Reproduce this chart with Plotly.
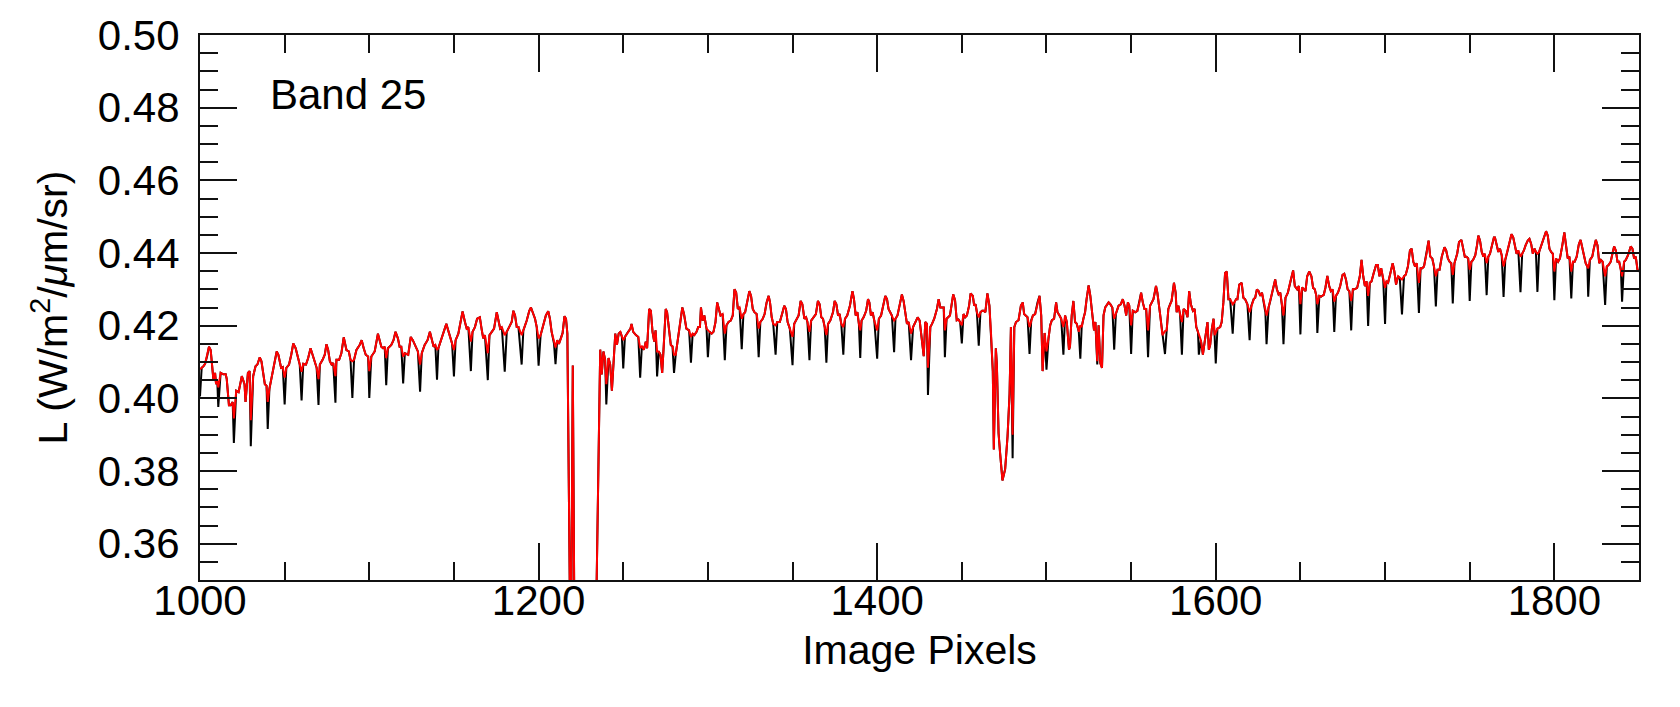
import plotly.graph_objects as go

# ---- data (x = image pixel, y = radiance) ----
red_x = [
    1000, 1001, 1002, 1003, 1004.3, 1005.3, 1006.3, 1007.9, 1008.9, 1009.5, 1010.2, 1010.8, 1012.2, 1013.8, 1015.2, 1015.8, 1017.1, 1018.1, 1019.3,
    1020, 1021.4, 1022.8, 1024.7, 1026.3, 1026.9, 1028.3, 1029.3,
    1030, 1031.4, 1032.8, 1033.9, 1035.3, 1036.3, 1038.3, 1039.3,
    1040, 1041, 1042.6, 1043.9, 1045.3, 1046.3, 1047.9, 1048.9,
    1050, 1051, 1052.6, 1053.9, 1055.1, 1056.5, 1057.9, 1058.9,
    1060, 1061, 1062.6, 1063.9, 1065.3, 1066.5, 1067.7, 1068.9,
    1070, 1070.8, 1072.4, 1073.7, 1074.7, 1075.7, 1076.7, 1077.7, 1078.7,
    1080, 1080.6, 1082.2, 1083.5, 1084.9, 1086.5, 1087.9, 1088.9,
    1090, 1091, 1092.4, 1094.3, 1095.5, 1096.7, 1097.9, 1099.3,
    1100, 1101.2, 1103.2, 1105.1, 1106.1, 1107.1, 1108.1, 1109.1,
    1110, 1111, 1113, 1114.3, 1115.5, 1116.9, 1117.9, 1118.9,
    1120, 1121, 1123, 1124.5, 1125.7, 1127.3, 1128.7,
    1130, 1131, 1132.7, 1134.4, 1135.8, 1136.9, 1138, 1139,
    1140, 1140.8, 1142.6, 1144.3, 1145.5, 1146.6, 1147.9, 1148.9,
    1150, 1151, 1152.6, 1153.9, 1155.1, 1156.5, 1157.5, 1158.5,
    1160, 1161, 1162.4, 1163.7, 1165.3, 1166.3, 1167.3, 1168.3,
    1170, 1171, 1172.4, 1173.7, 1175.3, 1176.3, 1177.3, 1178.3,
    1180, 1181.2, 1182.8, 1184.1, 1185.1, 1186.1, 1187.1, 1188.1,
    1190, 1191, 1193, 1194.5, 1195.5, 1196.5, 1197.9, 1198.9,
    1200, 1201.2, 1202.8, 1204.3, 1205.7, 1206.7, 1207.7, 1209.1,
    1210, 1211, 1212, 1213.2, 1214.2, 1215.3, 1216.2, 1217, 1219, 1220.2, 1221.4,
    1233, 1236.4, 1237.3, 1238.3, 1239.3,
    1240, 1241.3, 1242.3, 1243.3, 1244.3, 1245.3, 1246.3, 1247.3, 1248.3, 1249.2,
    1250, 1251, 1252.9, 1254.3, 1254.9, 1255.9, 1257.5, 1258.9,
    1260, 1261, 1262.2, 1263.3, 1264.1, 1265.3, 1266.3, 1267.3, 1268.3, 1269.1,
    1270, 1271, 1272, 1273, 1273.9, 1275.1, 1275.9, 1276.9, 1278.1, 1279.1,
    1280, 1281, 1282.4, 1283.7, 1284.9, 1285.9, 1287.3, 1288.9,
    1290, 1291, 1292, 1293.3, 1294.3, 1295.3, 1295.9, 1296.9, 1297.9, 1299.2,
    1300, 1301, 1302.2, 1303.3, 1304.5, 1305.5, 1306.5, 1307.5, 1308.7,
    1310, 1311, 1312.2, 1313.5, 1314.7, 1315.7, 1316.7, 1317.7, 1318.7,
    1320, 1321, 1322, 1323.3, 1324.5, 1325.5, 1326.5, 1327.5, 1328.8,
    1330, 1331, 1332.4, 1333.5, 1334.7, 1335.9, 1336.7, 1337.7, 1338.6,
    1340, 1341, 1342.5, 1344.1, 1345.1, 1346.1, 1347.1, 1348.4,
    1350, 1351, 1352.4, 1353.6, 1354.8, 1355.8, 1357, 1358, 1358.8,
    1360, 1361, 1362.4, 1363.8, 1365, 1366, 1367, 1368, 1369,
    1370, 1371, 1372.3, 1373.9, 1374.9, 1375.9, 1376.9, 1377.8, 1378.8,
    1380, 1381, 1382.3, 1383.9, 1385.4, 1386.3, 1387.3, 1388.3, 1389.2,
    1390, 1390.8, 1392, 1393.5, 1394.6, 1395.4, 1396.3, 1397.3, 1398.3,
    1400, 1401, 1402.3, 1403.5, 1404.8, 1405.8, 1406.7, 1407.7, 1408.7,
    1410, 1410.8, 1412, 1413.6, 1414.6, 1415.6, 1416.6, 1417.6, 1418.6,
    1420, 1421.2, 1422.6, 1423.9, 1425.1, 1426.5, 1427.5, 1428.4, 1429.4,
    1430, 1431.4, 1432.4, 1433.7, 1435.3, 1436.3, 1437.3, 1438.3, 1439.3,
    1440, 1441, 1443, 1444.9, 1446, 1447, 1448, 1449,
    1450, 1451, 1452, 1453, 1454.3, 1455.2, 1456.5, 1457.3, 1458.1, 1458.9,
    1460, 1461, 1462, 1463, 1463.9, 1465.1, 1466.3, 1467.3, 1468.3, 1468.9, 1470.1, 1470.7, 1471.7, 1472.6, 1474, 1475.6, 1477, 1478.2, 1479,
    1480, 1481, 1482, 1483.5, 1484.9, 1486, 1486.8, 1487.6, 1488.8,
    1490, 1491, 1492, 1493.3, 1494.7, 1495.9, 1496.9, 1497.7, 1498.9,
    1500, 1501.2, 1502.2, 1503.2, 1504.5, 1505.7, 1506.5, 1507.7, 1508.7,
    1510, 1511, 1512, 1513.3, 1513.9, 1514.9, 1515.9, 1516.9, 1517.9, 1519.1,
    1520, 1520.8, 1521.8, 1522.8, 1523.7, 1524.9, 1525.9, 1527.1, 1528.1, 1528.9,
    1530, 1530.8, 1531.8, 1532.8, 1533.7, 1534.7, 1535.7, 1536.7, 1537.7, 1538.9,
    1540, 1541, 1542.6, 1543.9, 1545.1, 1546.1, 1547.1, 1548.1, 1548.9,
    1550, 1551, 1552.4, 1553.7, 1554.9, 1555.9, 1556.9, 1557.9, 1558.9,
    1560, 1561.2, 1563.2, 1564.7, 1565.5, 1567.1, 1568.5,
    1570, 1571, 1572, 1573, 1573.9, 1575.3, 1576.3, 1576.9, 1577.9, 1578.9,
    1580, 1581, 1582.2, 1583.3, 1584.3, 1585.3, 1586.5, 1587.5, 1588.5, 1589.5,
    1590, 1591.2, 1592.4, 1593.2, 1594.1, 1595.1, 1595.9, 1596.7, 1597.7, 1598.7, 1599.3,
    1600, 1601, 1602.6, 1603.5, 1604.5, 1605.5, 1606.5, 1607.5, 1608.5,
    1610, 1611, 1612, 1612.8, 1613.9, 1615.3, 1616.3, 1617.3, 1618.7,
    1620, 1621, 1622.4, 1623.3, 1624.3, 1625.3, 1626.3, 1627.3, 1628.3, 1629.3,
    1630, 1631.2, 1632.2, 1633.7, 1635.1, 1636.1, 1637.1, 1638.1, 1639.1,
    1640, 1641.2, 1642.6, 1644.1, 1645.7, 1646.7, 1648.1, 1649.1,
    1650, 1651, 1652, 1653, 1654, 1655.2, 1656.5, 1657.5, 1658.5, 1659.4,
    1660, 1661.2, 1662.2, 1663.8, 1664.8, 1665.9, 1667, 1668, 1669,
    1670, 1671, 1672.2, 1673.5, 1674.9, 1675.9, 1676.9, 1677.9, 1678.9,
    1680, 1681, 1682, 1683.5, 1685.1, 1686.1, 1687.1, 1688.1, 1689.1,
    1690, 1691, 1692, 1693.3, 1694.7, 1695.7, 1696.7, 1697.7, 1698.9,
    1700, 1700.8, 1701.8, 1703.2, 1704.5, 1705.5, 1706.5, 1707.7, 1708.7,
    1710, 1711.2, 1712.2, 1713.5, 1714.7, 1715.7, 1716.7, 1717.7, 1718.7,
    1720, 1721, 1722, 1723, 1724.5, 1725.7, 1726.7, 1727.9, 1728.9,
    1730, 1731, 1732.2, 1733.5, 1735.1, 1736.1, 1737.1, 1738.1, 1739.1,
    1740, 1741, 1742.6, 1743.7, 1745.1, 1746.1, 1747.1, 1748.1, 1749.1,
    1750, 1751, 1752, 1753.3, 1754.3, 1755.1, 1756.1, 1757.1, 1758.1, 1758.9,
    1760, 1761, 1762, 1763.3, 1764.3, 1764.9, 1765.9, 1766.9, 1767.9, 1768.9,
    1770, 1771, 1772.2, 1773.5, 1774.7, 1775.7, 1776.7, 1777.7, 1778.7,
    1780, 1781, 1782, 1783, 1784.3, 1785.3, 1786.3, 1787.3, 1788.3, 1789.1,
    1790, 1791, 1792.2, 1793.7, 1795.1, 1796.1, 1797.1, 1798.1, 1799.1,
    1800, 1801, 1802.2, 1803.3, 1804.7, 1805.9, 1806.9, 1807.9, 1808.9,
    1810, 1811, 1812, 1813.2, 1814.5, 1815.5, 1816.5, 1817.5, 1818.5, 1819.5,
    1820, 1821, 1822.4, 1823.3, 1824.5, 1825.5, 1826.5, 1827.5, 1828.5,
    1830, 1831, 1832, 1833.3, 1834.3, 1835.3, 1836.3, 1837.3, 1838.3, 1839.3,
    1840, 1841.2, 1842.2, 1843.5, 1845.1, 1846.1, 1847.1, 1848.1, 1849.1, 1850,
]

red_y = [
    0.4080, 0.4084, 0.4088, 0.4095, 0.4118, 0.4142, 0.4133, 0.4053, 0.4070, 0.4039, 0.4048, 0.4030, 0.4070, 0.4066, 0.4066, 0.4053, 0.3981, 0.3981, 0.3990,
    0.3945, 0.4021, 0.4017, 0.4061, 0.4039, 0.3990, 0.4070, 0.4075,
    0.3940, 0.4061, 0.4088, 0.4093, 0.4113, 0.4102, 0.4039, 0.4035,
    0.3990, 0.4026, 0.4061, 0.4097, 0.4129, 0.4120, 0.4084, 0.4086,
    0.4057, 0.4084, 0.4093, 0.4120, 0.4151, 0.4138, 0.4111, 0.4093,
    0.4073, 0.4095, 0.4093, 0.4111, 0.4138, 0.4120, 0.4100, 0.4084,
    0.4053, 0.4093, 0.4106, 0.4120, 0.4149, 0.4133, 0.4102, 0.4093, 0.4097,
    0.4061, 0.4106, 0.4106, 0.4124, 0.4168, 0.4133, 0.4129, 0.4106,
    0.4102, 0.4106, 0.4133, 0.4147, 0.4160, 0.4138, 0.4120, 0.4115,
    0.4075, 0.4115, 0.4129, 0.4178, 0.4160, 0.4142, 0.4138, 0.4142,
    0.4111, 0.4138, 0.4147, 0.4160, 0.4183, 0.4165, 0.4142, 0.4142,
    0.4115, 0.4124, 0.4120, 0.4169, 0.4160, 0.4142, 0.4129,
    0.4093, 0.4124, 0.4147, 0.4160, 0.4183, 0.4165, 0.4142, 0.4147,
    0.4133, 0.4138, 0.4165, 0.4192, 0.4205, 0.4187, 0.4165, 0.4151,
    0.4133, 0.4160, 0.4178, 0.4210, 0.4239, 0.4210, 0.4192, 0.4196,
    0.4156, 0.4183, 0.4196, 0.4219, 0.4223, 0.4192, 0.4165, 0.4174,
    0.4124, 0.4174, 0.4183, 0.4192, 0.4237, 0.4210, 0.4192, 0.4196,
    0.4174, 0.4183, 0.4196, 0.4210, 0.4241, 0.4228, 0.4196, 0.4196,
    0.4174, 0.4187, 0.4214, 0.4241, 0.4250, 0.4237, 0.4219, 0.4196,
    0.4165, 0.4174, 0.4201, 0.4228, 0.4240, 0.4219, 0.4183, 0.4151,
    0.4140, 0.4160, 0.4150, 0.4165, 0.4180, 0.4226, 0.4219, 0.4178, 0.3200, 0.4090, 0.3200,
    0.3100, 0.4134, 0.4066, 0.4129, 0.4106,
    0.4039, 0.4111, 0.4093, 0.4021, 0.4120, 0.4178, 0.4147, 0.4178, 0.4183, 0.4169,
    0.4160, 0.4169, 0.4183, 0.4192, 0.4205, 0.4183, 0.4174, 0.4169,
    0.4138, 0.4143, 0.4134, 0.4156, 0.4138, 0.4246, 0.4241, 0.4183, 0.4156, 0.4187,
    0.4129, 0.4129, 0.4120, 0.4070, 0.4143, 0.4246, 0.4237, 0.4192, 0.4147, 0.4143,
    0.4120, 0.4120, 0.4165, 0.4219, 0.4250, 0.4232, 0.4192, 0.4187,
    0.4169, 0.4178, 0.4174, 0.4183, 0.4196, 0.4196, 0.4250, 0.4214, 0.4228, 0.4192,
    0.4187, 0.4183, 0.4178, 0.4183, 0.4210, 0.4264, 0.4246, 0.4228, 0.4232,
    0.4178, 0.4201, 0.4210, 0.4214, 0.4228, 0.4300, 0.4291, 0.4246, 0.4250,
    0.4219, 0.4232, 0.4237, 0.4264, 0.4295, 0.4282, 0.4246, 0.4237, 0.4232,
    0.4192, 0.4210, 0.4219, 0.4232, 0.4264, 0.4282, 0.4264, 0.4223, 0.4205,
    0.4201, 0.4210, 0.4210, 0.4237, 0.4255, 0.4246, 0.4210, 0.4192,
    0.4169, 0.4205, 0.4219, 0.4228, 0.4268, 0.4259, 0.4219, 0.4223, 0.4210,
    0.4183, 0.4214, 0.4223, 0.4232, 0.4268, 0.4259, 0.4223, 0.4219, 0.4196,
    0.4174, 0.4205, 0.4214, 0.4237, 0.4268, 0.4259, 0.4228, 0.4232, 0.4205,
    0.4196, 0.4219, 0.4228, 0.4255, 0.4295, 0.4273, 0.4228, 0.4237, 0.4205,
    0.4187, 0.4214, 0.4223, 0.4241, 0.4273, 0.4264, 0.4228, 0.4237, 0.4214,
    0.4187, 0.4219, 0.4228, 0.4250, 0.4282, 0.4273, 0.4246, 0.4237, 0.4228,
    0.4214, 0.4219, 0.4228, 0.4264, 0.4286, 0.4268, 0.4228, 0.4205, 0.4210,
    0.4178, 0.4196, 0.4210, 0.4223, 0.4214, 0.4156, 0.4116, 0.4210, 0.4205,
    0.4084, 0.4196, 0.4205, 0.4219, 0.4246, 0.4273, 0.4250, 0.4250, 0.4250,
    0.4187, 0.4219, 0.4228, 0.4286, 0.4270, 0.4215, 0.4217, 0.4210,
    0.4201, 0.4232, 0.4223, 0.4228, 0.4255, 0.4289, 0.4282, 0.4255, 0.4259, 0.4237,
    0.4223, 0.4237, 0.4241, 0.4241, 0.4237, 0.4289, 0.4255, 0.4174, 0.4075, 0.3859, 0.4138, 0.4093, 0.3904, 0.3850, 0.3774, 0.3805, 0.3895, 0.4012, 0.4196,
    0.3900, 0.4196, 0.4210, 0.4215, 0.4255, 0.4264, 0.4232, 0.4228, 0.4223,
    0.4196, 0.4215, 0.4228, 0.4232, 0.4264, 0.4282, 0.4228, 0.4075, 0.4180,
    0.4129, 0.4165, 0.4201, 0.4215, 0.4219, 0.4264, 0.4237, 0.4228, 0.4219,
    0.4196, 0.4228, 0.4210, 0.4134, 0.4143, 0.4228, 0.4268, 0.4210, 0.4205, 0.4183,
    0.4201, 0.4196, 0.4219, 0.4237, 0.4273, 0.4311, 0.4282, 0.4223, 0.4187, 0.4210,
    0.4102, 0.4201, 0.4097, 0.4084, 0.4228, 0.4250, 0.4259, 0.4264, 0.4259, 0.4250,
    0.4219, 0.4232, 0.4255, 0.4259, 0.4273, 0.4255, 0.4228, 0.4264, 0.4255,
    0.4201, 0.4241, 0.4237, 0.4241, 0.4264, 0.4291, 0.4264, 0.4246, 0.4246,
    0.4187, 0.4255, 0.4273, 0.4309, 0.4291, 0.4232, 0.4174,
    0.4185, 0.4187, 0.4246, 0.4259, 0.4268, 0.4318, 0.4291, 0.4237, 0.4255, 0.4232,
    0.4210, 0.4246, 0.4241, 0.4223, 0.4295, 0.4259, 0.4241, 0.4246, 0.4196, 0.4183,
    0.4174, 0.4160, 0.4120, 0.4147, 0.4183, 0.4210, 0.4134, 0.4147, 0.4192, 0.4219, 0.4174,
    0.4183, 0.4192, 0.4196, 0.4210, 0.4264, 0.4345, 0.4349, 0.4273, 0.4273,
    0.4259, 0.4264, 0.4273, 0.4273, 0.4313, 0.4318, 0.4277, 0.4273, 0.4259,
    0.4237, 0.4255, 0.4273, 0.4277, 0.4300, 0.4295, 0.4282, 0.4291, 0.4264, 0.4237,
    0.4228, 0.4250, 0.4268, 0.4295, 0.4327, 0.4300, 0.4286, 0.4291, 0.4255,
    0.4228, 0.4277, 0.4291, 0.4322, 0.4352, 0.4309, 0.4300, 0.4309,
    0.4259, 0.4305, 0.4300, 0.4295, 0.4336, 0.4349, 0.4336, 0.4304, 0.4300, 0.4282,
    0.4259, 0.4282, 0.4280, 0.4285, 0.4305, 0.4337, 0.4309, 0.4295, 0.4300,
    0.4266, 0.4282, 0.4291, 0.4309, 0.4340, 0.4343, 0.4327, 0.4300, 0.4295,
    0.4268, 0.4300, 0.4300, 0.4304, 0.4336, 0.4381, 0.4336, 0.4309, 0.4322,
    0.4282, 0.4318, 0.4322, 0.4345, 0.4367, 0.4367, 0.4336, 0.4358, 0.4327,
    0.4304, 0.4322, 0.4318, 0.4345, 0.4372, 0.4349, 0.4313, 0.4336, 0.4331,
    0.4327, 0.4336, 0.4340, 0.4363, 0.4407, 0.4412, 0.4376, 0.4363, 0.4372,
    0.4318, 0.4358, 0.4358, 0.4363, 0.4398, 0.4434, 0.4390, 0.4385, 0.4363,
    0.4336, 0.4354, 0.4354, 0.4390, 0.4416, 0.4407, 0.4385, 0.4376, 0.4372,
    0.4340, 0.4372, 0.4398, 0.4430, 0.4436, 0.4416, 0.4390, 0.4390, 0.4385,
    0.4354, 0.4376, 0.4381, 0.4394, 0.4421, 0.4448, 0.4434, 0.4403, 0.4390, 0.4398,
    0.4372, 0.4390, 0.4398, 0.4425, 0.4443, 0.4443, 0.4421, 0.4403, 0.4412, 0.4394,
    0.4363, 0.4381, 0.4403, 0.4430, 0.4452, 0.4443, 0.4416, 0.4398, 0.4407,
    0.4390, 0.4398, 0.4407, 0.4421, 0.4434, 0.4439, 0.4425, 0.4398, 0.4412, 0.4403,
    0.4398, 0.4403, 0.4421, 0.4443, 0.4460, 0.4448, 0.4412, 0.4403, 0.4398,
    0.4349, 0.4385, 0.4376, 0.4385, 0.4421, 0.4457, 0.4421, 0.4385, 0.4390,
    0.4349, 0.4376, 0.4376, 0.4390, 0.4425, 0.4436, 0.4416, 0.4398, 0.4372, 0.4363,
    0.4358, 0.4381, 0.4390, 0.4412, 0.4436, 0.4421, 0.4372, 0.4381, 0.4376,
    0.4336, 0.4363, 0.4367, 0.4376, 0.4398, 0.4418, 0.4407, 0.4376, 0.4376, 0.4354,
    0.4336, 0.4376, 0.4381, 0.4394, 0.4418, 0.4412, 0.4385, 0.4390, 0.4354, 0.4349,
]

# deeper minima of the black curve (elsewhere it coincides with the red one)
black_dip_x = [1000, 1010.8, 1020, 1030, 1040, 1050, 1060, 1070, 1080, 1090, 1100,
               1110, 1120, 1130, 1140, 1150, 1160, 1170, 1180, 1190, 1200, 1210,
               1240, 1250, 1260, 1270, 1280, 1290, 1300, 1310, 1320, 1330, 1340,
               1350, 1360, 1370, 1380, 1390, 1400, 1410, 1420, 1430, 1440, 1450,
               1460, 1480, 1490, 1500, 1510, 1520, 1530, 1540, 1550, 1560, 1570,
               1580, 1590, 1600, 1610, 1620, 1630, 1640, 1650, 1660, 1670, 1680,
               1690, 1700, 1710, 1720, 1730, 1740, 1750, 1760, 1770, 1780, 1790,
               1800, 1810, 1820, 1830, 1840]
black_dip_y = [0.4005, 0.3976, 0.3877, 0.3868, 0.3916, 0.3983, 0.3994, 0.3982, 0.3988, 0.4001, 0.4001,
               0.4036, 0.4041, 0.4018, 0.4051, 0.4060, 0.4075, 0.4050, 0.4073, 0.4093, 0.4090, 0.4094,
               0.3983, 0.4082, 0.4057, 0.4060, 0.4070, 0.4098, 0.4113, 0.4105, 0.4135, 0.4113, 0.4120,
               0.4091, 0.4105, 0.4098, 0.4120, 0.4111, 0.4109, 0.4127, 0.4105, 0.4009, 0.4113, 0.4151,
               0.4145, 0.3835, 0.4122, 0.4079, 0.4120, 0.4109, 0.4093, 0.4134, 0.4122, 0.4113, 0.4122,
               0.4120, 0.4120, 0.4096, 0.4178, 0.4160, 0.4149, 0.4149, 0.4176, 0.4180, 0.4183, 0.4187,
               0.4199, 0.4205, 0.4231, 0.4235, 0.4253, 0.4261, 0.4268, 0.4284, 0.4279, 0.4292, 0.4293,
               0.4270, 0.4275, 0.4280, 0.4257, 0.4266]

x_tick_vals = [1000, 1200, 1400, 1600, 1800]
y_tick_vals = [0.36, 0.38, 0.40, 0.42, 0.44, 0.46, 0.48, 0.50]
y_tick_text = ["0.36", "0.38", "0.40", "0.42", "0.44", "0.46", "0.48", "0.50"]

assert len(red_x) == len(red_y), (len(red_x), len(red_y))
assert len(black_dip_x) == len(black_dip_y)

dips = dict(zip(black_dip_x, black_dip_y))
black_y = [dips.get(x, y) for x, y in zip(red_x, red_y)]

FONT = "Liberation Sans, Arial, Helvetica, sans-serif"
FS = 42

fig = go.Figure()
fig.add_trace(go.Scatter(x=red_x, y=black_y, mode="lines",
                         line=dict(color="black", width=2), showlegend=False,
                         hoverinfo="skip"))
fig.add_trace(go.Scatter(x=red_x, y=red_y, mode="lines",
                         line=dict(color="#ff0000", width=2), showlegend=False,
                         hoverinfo="skip"))

axis_common = dict(
    showgrid=False, zeroline=False, showline=True, linecolor="#111", linewidth=2,
    ticks="inside", tickcolor="#111", tickwidth=2, mirror="allticks",
    tickfont=dict(family=FONT, size=FS, color="black"),
)

fig.update_xaxes(
    range=[1000, 1850], tickmode="array", tickvals=x_tick_vals,
    ticklen=37, ticklabelstandoff=-17,
    minor=dict(dtick=50, tick0=1000, ticklen=18, ticks="inside", tickcolor="#111", tickwidth=2),
    title=dict(text="Image Pixels", font=dict(family=FONT, size=41, color="black"), standoff=12),
    **axis_common,
)
fig.update_yaxes(
    range=[0.35, 0.50], tickmode="array", tickvals=y_tick_vals, ticktext=y_tick_text,
    ticklen=37, ticklabelstandoff=10,
    minor=dict(dtick=0.005, tick0=0.35, ticklen=18, ticks="inside", tickcolor="#111", tickwidth=2),
    title=dict(text="L (W/m<sup>2</sup>/<i>μ</i>m/sr)", font=dict(family=FONT, size=41, color="black"), standoff=17),
    **axis_common,
)

fig.add_annotation(x=1040.2, y=0.4836, xref="x", yref="y", text="Band 25",
                   showarrow=False, xanchor="left", yanchor="middle",
                   font=dict(family=FONT, size=FS, color="black"))

fig.update_layout(
    width=1680, height=707,
    margin=dict(l=200, r=41, t=24, b=127),
    paper_bgcolor="white", plot_bgcolor="white",
)

fig.write_html("out.html")
